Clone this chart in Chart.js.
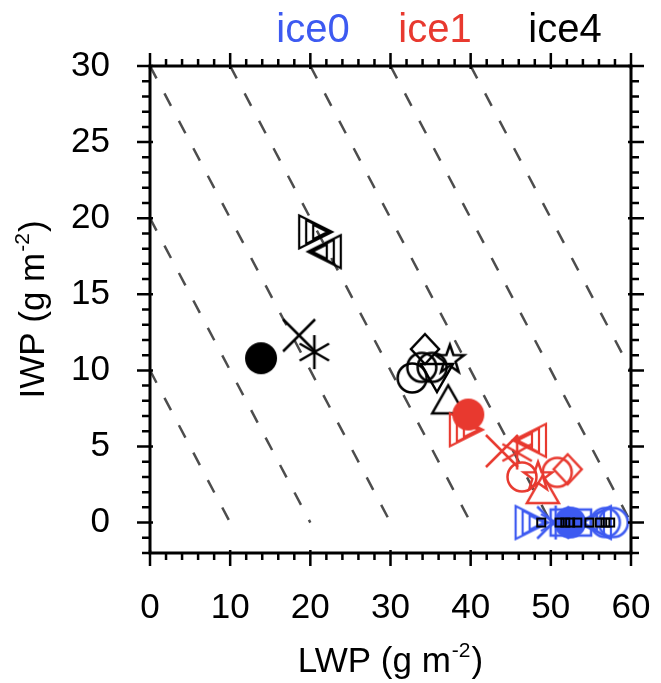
<!DOCTYPE html>
<html>
<head>
<meta charset="utf-8">
<script src="https://cdn.jsdelivr.net/npm/chart.js@4.4.1/dist/chart.umd.min.js"></script>
<style>
  html, body { margin: 0; padding: 0; background: #fff; }
  #wrap { width: 661px; height: 683px; }
</style>
</head>
<body>
<div id="wrap"><canvas id="c" width="661" height="683"></canvas></div>
<script>
var FONT = '"Liberation Sans", Arial, sans-serif'

var xTicks = [0, 10, 20, 30, 40, 50, 60]
var yTicks = [0, 5, 10, 15, 20, 25, 30]
var runs = ['ice0', 'ice1', 'ice4']
var runColors = ['#3d5af1', '#e8392f', '#000000']

// ice0 (blue)
var ice0Lwp = [47.6, 50.3, 50.6, 51.6, 53.4, 52.4, 55.5, 56.8, 57.8]
var ice0Iwp = [0, 0, 0, 0, 0, 0, 0, 0, 0]
var ice0Mark = ['hatchR', 'cross', 'asterisk', 'box', 'box', 'dot', 'hatchL', 'circle', 'circle']

// ice1 (red)
var ice1Lwp = [39.4, 47.4, 43.9, 45.8, 46.4, 50.8, 52.1, 48.4, 49.0, 39.7]
var ice1Iwp = [6.1, 5.4, 4.7, 4.6, 3.0, 3.3, 3.5, 3.0, 2.0, 7.1]
var ice1Mark = ['hatchR', 'hatchL', 'cross', 'asterisk', 'circle', 'circle', 'diamond', 'star', 'triangle', 'dot']

// ice4 (black)
var ice4Lwp = [13.85, 18.6, 20.5, 20.6, 21.8, 32.7, 33.9, 35.2, 34.3, 37.4, 37.2, 35.8]
var ice4Iwp = [10.8, 12.3, 11.2, 19.1, 17.8, 9.5, 10.2, 10.2, 11.4, 10.7, 7.9, 9.7]
var ice4Mark = ['dot', 'cross', 'asterisk', 'hatchR', 'hatchL', 'circle', 'circle', 'circle', 'diamond', 'star', 'triangle', 'down']

// small black squares along IWP = 0
var ice4SmallLwp = [48.8, 51.1, 51.8, 52.4, 53.3, 54.8, 56.1, 56.8, 57.4]
var ice4SmallIwp = [0, 0, 0, 0, 0, 0, 0, 0, 0]

// dashed guides of constant LWP + IWP (start and end points)
var guideX0 = [0, 0, 0, 10, 20, 30, 40]
var guideY0 = [10, 20, 30, 30, 30, 30, 30]
var guideX1 = [10, 20, 30, 40, 50, 60, 60]
var guideY1 = [0, 0, 0, 0, 0, 0, 10]

var markCache = {}
function marker(kind, color) {
  var key = kind + color
  if (markCache[key]) return markCache[key]
  var s = 42
  var c = document.createElement('canvas')
  c.width = c.height = s
  var g = c.getContext('2d')
  g.translate(s / 2, s / 2)
  g.strokeStyle = color
  g.fillStyle = color
  g.lineWidth = 2.5
  g.beginPath()
  if (kind == 'dot') {
    g.arc(0, 0, 16, 0, Math.PI * 2)
    g.fill()
  } else if (kind == 'circle') {
    g.arc(0, 0, 14.5, 0, Math.PI * 2)
    g.stroke()
  } else if (kind == 'cross') {
    g.moveTo(-16, -16); g.lineTo(16, 16)
    g.moveTo(16, -16); g.lineTo(-16, 16)
    g.stroke()
  } else if (kind == 'asterisk') {
    [90, 30, -30].forEach(a => {
      var r = a * Math.PI / 180
      g.moveTo(Math.cos(r) * 17, -Math.sin(r) * 17)
      g.lineTo(-Math.cos(r) * 17, Math.sin(r) * 17)
    })
    g.stroke()
  } else if (kind == 'triangle') {
    g.moveTo(0, -17); g.lineTo(16, 11); g.lineTo(-16, 11); g.closePath()
    g.stroke()
  } else if (kind == 'down') {
    g.moveTo(0, 17); g.lineTo(16, -11); g.lineTo(-16, -11); g.closePath()
    g.stroke()
  } else if (kind == 'diamond') {
    g.moveTo(0, -15); g.lineTo(14, 0); g.lineTo(0, 15); g.lineTo(-14, 0); g.closePath()
    g.stroke()
  } else if (kind == 'box') {
    g.rect(-13, -13, 26, 26)
    g.stroke()
  } else if (kind == 'small') {
    g.lineWidth = 2
    g.rect(-4, -4, 8, 8)
    g.stroke()
  } else if (kind == 'star') {
    for (var i = 0; i < 10; i++) {
      var r = (i % 2 == 0) ? 15 : 6
      var a = -Math.PI / 2 + i * Math.PI / 5
      if (i == 0) g.moveTo(Math.cos(a) * r, Math.sin(a) * r)
      else g.lineTo(Math.cos(a) * r, Math.sin(a) * r)
    }
    g.closePath()
    g.stroke()
  } else if (kind == 'hatchR' || kind == 'hatchL') {
    var d = kind == 'hatchR' ? 1 : -1
    g.lineWidth = 2.2;
    [1, 0.72, 0.44].forEach(k => {
      var ax = 9 * d
      var p = [[-16 * d, -16.5], [17 * d, 0], [-16 * d, 16.5]].map(v => [ax + (v[0] - ax) * k, v[1] * k])
      g.moveTo(p[0][0], p[0][1]); g.lineTo(p[1][0], p[1][1]); g.lineTo(p[2][0], p[2][1]); g.closePath()
    })
    g.stroke()
  }
  markCache[key] = c
  return c
}

function pts(xs, ys) {
  return xs.map((v, i) => ({ x: v, y: ys[i] }))
}

var datasets = [
  {
    label: 'ice4 small',
    data: pts(ice4SmallLwp, ice4SmallIwp),
    pointStyle: ice4SmallLwp.map(() => marker('small', runColors[2])),
    order: 0
  },
  {
    label: runs[1],
    data: pts(ice1Lwp, ice1Iwp),
    pointStyle: ice1Mark.map(m => marker(m, runColors[1])),
    order: 1
  },
  {
    label: runs[2],
    data: pts(ice4Lwp, ice4Iwp),
    pointStyle: ice4Mark.map(m => marker(m, runColors[2])),
    order: 2
  },
  {
    label: runs[0],
    data: pts(ice0Lwp, ice0Iwp),
    pointStyle: ice0Mark.map(m => marker(m, runColors[0])),
    order: 3
  }
]

guideX0.forEach((x0, i) => {
  datasets.push({
    type: 'line',
    label: 'guide' + i,
    data: [{ x: x0, y: guideY0[i] }, { x: guideX1[i], y: guideY1[i] }],
    borderColor: '#4d4d4d',
    borderWidth: 2.5,
    borderDash: [14, 17],
    pointRadius: 0,
    fill: false,
    order: 10
  })
})

function supText(ctx, main, sup, tail, x, y, rot) {
  ctx.save()
  ctx.translate(x, y)
  ctx.rotate(rot)
  ctx.fillStyle = '#000'
  ctx.textAlign = 'left'
  ctx.textBaseline = 'alphabetic'
  ctx.font = '35px ' + FONT
  var w1 = ctx.measureText(main).width
  var w3 = ctx.measureText(tail).width
  ctx.font = '21px ' + FONT
  var w2 = ctx.measureText(sup).width
  var x0 = -(w1 + w2 + w3 + 2) / 2
  ctx.font = '35px ' + FONT
  ctx.fillText(main, x0, 0)
  ctx.font = '21px ' + FONT
  ctx.fillText(sup, x0 + w1 + 1, -15)
  ctx.font = '35px ' + FONT
  ctx.fillText(tail, x0 + w1 + w2 + 2, 0)
  ctx.restore()
}

var frame = {
  id: 'frame',
  afterDatasetsDraw(chart) {
    var ctx = chart.ctx, a = chart.chartArea
    var sx = chart.scales.x, sy = chart.scales.y
    ctx.save()
    ctx.strokeStyle = '#000'
    ctx.lineCap = 'butt'
    ctx.lineWidth = 2.5
    ctx.beginPath()
    for (var v = 0; v <= 60; v += 2) {
      var px = sx.getPixelForValue(v)
      var major = v % 10 == 0
      ctx.moveTo(px, a.bottom - (major ? 3 : 0)); ctx.lineTo(px, a.bottom + (major ? 13 : 7))
      ctx.moveTo(px, a.top + (major ? 3 : 0)); ctx.lineTo(px, a.top - (major ? 13 : 7))
    }
    for (var w = -2; w <= 30; w += 1) {
      var py = sy.getPixelForValue(w)
      var maj = w % 5 == 0
      ctx.moveTo(a.left + (maj ? 3 : 0), py); ctx.lineTo(a.left - (maj ? 13 : 8), py)
      ctx.moveTo(a.right - (maj ? 3 : 0), py); ctx.lineTo(a.right + (maj ? 13 : 8), py)
    }
    ctx.stroke()
    ctx.lineWidth = 3
    ctx.strokeRect(a.left, a.top, a.right - a.left, a.bottom - a.top)

    // run names on top
    ctx.font = '40px ' + FONT
    ctx.textAlign = 'center'
    ctx.textBaseline = 'alphabetic'
    var cx = [313, 435, 565]
    runs.forEach((r, i) => {
      ctx.fillStyle = runColors[i]
      ctx.fillText(r, cx[i], 42)
    })
    ctx.restore()

    supText(ctx, 'LWP (g m', '-2', ')', (a.left + a.right) / 2, 672, 0)
    supText(ctx, 'IWP (g m', '-2', ')', 44, (a.top + a.bottom) / 2, -Math.PI / 2)
  }
}

var chart = new Chart(document.getElementById('c'), {
  type: 'scatter',
  data: { datasets: datasets },
  options: {
    responsive: false,
    animation: false,
    devicePixelRatio: 1,
    layout: { padding: { left: 0, top: 66, right: 30, bottom: 0 } },
    plugins: { legend: { display: false }, tooltip: { enabled: false }, title: { display: false } },
    scales: {
      x: {
        type: 'linear',
        min: 0,
        max: 60,
        grid: { display: false, drawTicks: false },
        border: { display: false },
        afterBuildTicks: s => { s.ticks = xTicks.map(v => ({ value: v })) },
        afterFit: s => { s.height = 130; s.paddingLeft = 0; s.paddingRight = 0 },
        ticks: { color: '#000', padding: 34, font: { family: FONT, size: 35 } }
      },
      y: {
        type: 'linear',
        min: -2,
        max: 30,
        grid: { display: false, drawTicks: false },
        border: { display: false },
        afterBuildTicks: s => { s.ticks = yTicks.map(v => ({ value: v })) },
        afterFit: s => { s.width = 150; s.paddingTop = 0; s.paddingBottom = 0 },
        ticks: { color: '#000', padding: 40, font: { family: FONT, size: 35 } }
      }
    }
  },
  plugins: [frame]
})
</script>
</body>
</html>
